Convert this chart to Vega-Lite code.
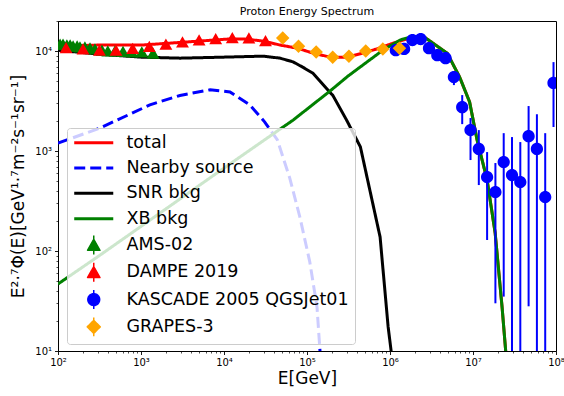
{
  "$schema": "https://vega.github.io/schema/vega-lite/v6.json",
  "width": 498,
  "height": 330,
  "autosize": {"type": "none"},
  "padding": {"left": 58, "top": 21, "right": 8, "bottom": 45},
  "background": "white",
  "title": {"text": "Proton Energy Spectrum", "fontSize": 11, "font": "DejaVu Sans", "fontWeight": "normal", "color": "black", "offset": 5, "dy": 6, "anchor": "middle"},
  "config": {
    "font": "DejaVu Sans",
    "view": {"stroke": "black", "strokeWidth": 1},
    "axis": {"grid": false, "domainColor": "black", "tickColor": "black", "labelColor": "black", "titleColor": "black", "labelFont": "DejaVu Sans", "titleFont": "DejaVu Sans", "titleFontWeight": "normal"}
  },
  "datasets": {
    "curves": [
      {"s": "total", "E": 100, "y": 11200},
      {"s": "total", "E": 321, "y": 11500},
      {"s": "total", "E": 1028, "y": 11500},
      {"s": "total", "E": 3390, "y": 12300},
      {"s": "total", "E": 11200, "y": 13200},
      {"s": "total", "E": 17900, "y": 13200},
      {"s": "total", "E": 29500, "y": 12600},
      {"s": "total", "E": 47300, "y": 11500},
      {"s": "total", "E": 76000, "y": 10700},
      {"s": "total", "E": 118000, "y": 9550},
      {"s": "total", "E": 190000, "y": 8700},
      {"s": "total", "E": 300000, "y": 8700},
      {"s": "total", "E": 470000, "y": 9550},
      {"s": "total", "E": 690000, "y": 10500},
      {"s": "total", "E": 1090000, "y": 12000},
      {"s": "total", "E": 1740000, "y": 13500},
      {"s": "total", "E": 2500000, "y": 14100},
      {"s": "total", "E": 4900000, "y": 9500},
      {"s": "total", "E": 6900000, "y": 5500},
      {"s": "total", "E": 9100000, "y": 3100},
      {"s": "total", "E": 11200000, "y": 1290},
      {"s": "total", "E": 14800000, "y": 513},
      {"s": "total", "E": 18500000, "y": 151},
      {"s": "total", "E": 22400000, "y": 27.5},
      {"s": "total", "E": 25000000, "y": 9.1},
      {"s": "Nearby source", "E": 100, "y": 1200},
      {"s": "Nearby source", "E": 321, "y": 1700},
      {"s": "Nearby source", "E": 1280, "y": 2900},
      {"s": "Nearby source", "E": 2950, "y": 3600},
      {"s": "Nearby source", "E": 6800, "y": 4100},
      {"s": "Nearby source", "E": 11800, "y": 3900},
      {"s": "Nearby source", "E": 20400, "y": 2900},
      {"s": "Nearby source", "E": 31000, "y": 1950},
      {"s": "Nearby source", "E": 44000, "y": 1290},
      {"s": "Nearby source", "E": 62000, "y": 537},
      {"s": "Nearby source", "E": 82000, "y": 219},
      {"s": "Nearby source", "E": 108000, "y": 78},
      {"s": "Nearby source", "E": 132000, "y": 27.5},
      {"s": "Nearby source", "E": 144000, "y": 9.5},
      {"s": "SNR bkg", "E": 100, "y": 10200},
      {"s": "SNR bkg", "E": 321, "y": 9300},
      {"s": "SNR bkg", "E": 1000, "y": 8700},
      {"s": "SNR bkg", "E": 2950, "y": 8500},
      {"s": "SNR bkg", "E": 10000, "y": 8700},
      {"s": "SNR bkg", "E": 29500, "y": 8900},
      {"s": "SNR bkg", "E": 47300, "y": 8500},
      {"s": "SNR bkg", "E": 68000, "y": 7800},
      {"s": "SNR bkg", "E": 89000, "y": 6900},
      {"s": "SNR bkg", "E": 118000, "y": 6000},
      {"s": "SNR bkg", "E": 205000, "y": 3600},
      {"s": "SNR bkg", "E": 300000, "y": 2040},
      {"s": "SNR bkg", "E": 440000, "y": 1100},
      {"s": "SNR bkg", "E": 760000, "y": 138},
      {"s": "SNR bkg", "E": 950000, "y": 17.4},
      {"s": "SNR bkg", "E": 1050000, "y": 8.9},
      {"s": "XB bkg", "E": 100, "y": 46.8},
      {"s": "XB bkg", "E": 321, "y": 91},
      {"s": "XB bkg", "E": 1285, "y": 204},
      {"s": "XB bkg", "E": 5100, "y": 457},
      {"s": "XB bkg", "E": 20400, "y": 1020},
      {"s": "XB bkg", "E": 68000, "y": 2040},
      {"s": "XB bkg", "E": 189000, "y": 3980},
      {"s": "XB bkg", "E": 310000, "y": 5600},
      {"s": "XB bkg", "E": 530000, "y": 7800},
      {"s": "XB bkg", "E": 820000, "y": 10200},
      {"s": "XB bkg", "E": 1320000, "y": 12900},
      {"s": "XB bkg", "E": 1740000, "y": 13800},
      {"s": "XB bkg", "E": 2500000, "y": 14100},
      {"s": "XB bkg", "E": 4900000, "y": 9500},
      {"s": "XB bkg", "E": 6900000, "y": 5500},
      {"s": "XB bkg", "E": 9100000, "y": 3100},
      {"s": "XB bkg", "E": 11200000, "y": 1290},
      {"s": "XB bkg", "E": 14800000, "y": 513},
      {"s": "XB bkg", "E": 18500000, "y": 151},
      {"s": "XB bkg", "E": 22400000, "y": 27.5},
      {"s": "XB bkg", "E": 25000000, "y": 9.1}
    ],
    "points": [
      {"s": "AMS-02", "E": 106, "y": 11700, "lo": 11600, "hi": 11800},
      {"s": "AMS-02", "E": 115, "y": 11700, "lo": 11600, "hi": 11800},
      {"s": "AMS-02", "E": 128, "y": 11500, "lo": 11400, "hi": 11600},
      {"s": "AMS-02", "E": 140, "y": 11500, "lo": 11400, "hi": 11600},
      {"s": "AMS-02", "E": 152, "y": 11200, "lo": 11100, "hi": 11300},
      {"s": "AMS-02", "E": 170, "y": 11200, "lo": 11100, "hi": 11300},
      {"s": "AMS-02", "E": 184, "y": 11000, "lo": 10900, "hi": 11100},
      {"s": "AMS-02", "E": 211, "y": 11000, "lo": 10900, "hi": 11100},
      {"s": "AMS-02", "E": 243, "y": 10700, "lo": 10600, "hi": 10800},
      {"s": "AMS-02", "E": 279, "y": 10500, "lo": 10400, "hi": 10600},
      {"s": "AMS-02", "E": 339, "y": 10200, "lo": 10100, "hi": 10300},
      {"s": "AMS-02", "E": 398, "y": 10000, "lo": 9900, "hi": 10100},
      {"s": "AMS-02", "E": 486, "y": 10000, "lo": 9900, "hi": 10100},
      {"s": "AMS-02", "E": 607, "y": 9900, "lo": 9800, "hi": 10000},
      {"s": "AMS-02", "E": 776, "y": 9800, "lo": 9700, "hi": 9900},
      {"s": "AMS-02", "E": 1023, "y": 9800, "lo": 9700, "hi": 9900},
      {"s": "AMS-02", "E": 1396, "y": 9500, "lo": 9400, "hi": 9600},
      {"s": "DAMPE 2019", "E": 125, "y": 10800, "lo": 10700, "hi": 10900},
      {"s": "DAMPE 2019", "E": 200, "y": 10500, "lo": 10400, "hi": 10600},
      {"s": "DAMPE 2019", "E": 316, "y": 10200, "lo": 10100, "hi": 10300},
      {"s": "DAMPE 2019", "E": 500, "y": 10200, "lo": 10100, "hi": 10300},
      {"s": "DAMPE 2019", "E": 794, "y": 10600, "lo": 10500, "hi": 10700},
      {"s": "DAMPE 2019", "E": 1259, "y": 11100, "lo": 11000, "hi": 11200},
      {"s": "DAMPE 2019", "E": 1995, "y": 11700, "lo": 11600, "hi": 11800},
      {"s": "DAMPE 2019", "E": 3162, "y": 12300, "lo": 12200, "hi": 12400},
      {"s": "DAMPE 2019", "E": 5012, "y": 12900, "lo": 12800, "hi": 13000},
      {"s": "DAMPE 2019", "E": 7943, "y": 13300, "lo": 13200, "hi": 13400},
      {"s": "DAMPE 2019", "E": 12589, "y": 13600, "lo": 13500, "hi": 13700},
      {"s": "DAMPE 2019", "E": 19953, "y": 13500, "lo": 13400, "hi": 13600},
      {"s": "DAMPE 2019", "E": 31623, "y": 12700, "lo": 12600, "hi": 12800},
      {"s": "KASCADE 2005 QGSJet01", "E": 1175000, "y": 10200, "lo": 9900, "hi": 10500},
      {"s": "KASCADE 2005 QGSJet01", "E": 1479000, "y": 10500, "lo": 10200, "hi": 10800},
      {"s": "KASCADE 2005 QGSJet01", "E": 1862000, "y": 12900, "lo": 12500, "hi": 13300},
      {"s": "KASCADE 2005 QGSJet01", "E": 2344000, "y": 13200, "lo": 12800, "hi": 13600},
      {"s": "KASCADE 2005 QGSJet01", "E": 2951000, "y": 10700, "lo": 10400, "hi": 11000},
      {"s": "KASCADE 2005 QGSJet01", "E": 3715000, "y": 9100, "lo": 8800, "hi": 9400},
      {"s": "KASCADE 2005 QGSJet01", "E": 4677000, "y": 8500, "lo": 8200, "hi": 8800},
      {"s": "KASCADE 2005 QGSJet01", "E": 5888000, "y": 5500, "lo": 4570, "hi": 6170},
      {"s": "KASCADE 2005 QGSJet01", "E": 7413000, "y": 2750, "lo": 1860, "hi": 3630},
      {"s": "KASCADE 2005 QGSJet01", "E": 9333000, "y": 1620, "lo": 813, "hi": 2140},
      {"s": "KASCADE 2005 QGSJet01", "E": 11750000, "y": 1050, "lo": 457, "hi": 1620},
      {"s": "KASCADE 2005 QGSJet01", "E": 14790000, "y": 550, "lo": 129, "hi": 977},
      {"s": "KASCADE 2005 QGSJet01", "E": 18620000, "y": 389, "lo": 30, "hi": 759},
      {"s": "KASCADE 2005 QGSJet01", "E": 23440000, "y": 776, "lo": 35, "hi": 1510},
      {"s": "KASCADE 2005 QGSJet01", "E": 29510000, "y": 575, "lo": 5, "hi": 1380},
      {"s": "KASCADE 2005 QGSJet01", "E": 37150000, "y": 490, "lo": 5, "hi": 1230},
      {"s": "KASCADE 2005 QGSJet01", "E": 46770000, "y": 1410, "lo": 28, "hi": 2820},
      {"s": "KASCADE 2005 QGSJet01", "E": 58880000, "y": 1050, "lo": 5, "hi": 2340},
      {"s": "KASCADE 2005 QGSJet01", "E": 74130000, "y": 347, "lo": 5, "hi": 1510},
      {"s": "KASCADE 2005 QGSJet01", "E": 93330000, "y": 4800, "lo": 1740, "hi": 7760},
      {"s": "GRAPES-3", "E": 51000, "y": 13500, "lo": 13300, "hi": 13700},
      {"s": "GRAPES-3", "E": 79000, "y": 11200, "lo": 11000, "hi": 11400},
      {"s": "GRAPES-3", "E": 129000, "y": 9800, "lo": 9600, "hi": 10000},
      {"s": "GRAPES-3", "E": 204000, "y": 8700, "lo": 8500, "hi": 8900},
      {"s": "GRAPES-3", "E": 320000, "y": 8900, "lo": 8700, "hi": 9100},
      {"s": "GRAPES-3", "E": 510000, "y": 10000, "lo": 9800, "hi": 10200},
      {"s": "GRAPES-3", "E": 820000, "y": 10500, "lo": 10300, "hi": 10700},
      {"s": "GRAPES-3", "E": 1300000, "y": 10700, "lo": 10500, "hi": 10900}
    ]
  },
  "encoding": {
    "x": {
      "field": "E", "type": "quantitative",
      "scale": {"type": "log", "domain": [100, 100000000], "nice": false},
      "axis": {
        "title": "E[GeV]",
        "values": [100,200,300,400,500,600,700,800,900,1000,2000,3000,4000,5000,6000,7000,8000,9000,10000,20000,30000,40000,50000,60000,70000,80000,90000,100000,200000,300000,400000,500000,600000,700000,800000,900000,1000000,2000000,3000000,4000000,5000000,6000000,7000000,8000000,9000000,10000000,20000000,30000000,40000000,50000000,60000000,70000000,80000000,90000000,100000000],
        "labelExpr": "datum.value == 100 ? '10²' : datum.value == 1000 ? '10³' : datum.value == 10000 ? '10⁴' : datum.value == 100000 ? '10⁵' : datum.value == 1000000 ? '10⁶' : datum.value == 10000000 ? '10⁷' : datum.value == 100000000 ? '10⁸' : ''",
        "labelOverlap": false, "labelFlush": false, "labelBound": false,
        "tickSize": {"condition": {"test": "indexof([100,1000,10000,100000,1000000,10000000,100000000], datum.value) >= 0", "value": 3.5}, "value": 2},
        "tickWidth": {"condition": {"test": "indexof([100,1000,10000,100000,1000000,10000000,100000000], datum.value) >= 0", "value": 0.9}, "value": 0.7},
        "labelFontSize": 10, "labelPadding": 3,
        "titleFontSize": 17, "titlePadding": 3
      }
    },
    "y": {
      "field": "y", "type": "quantitative",
      "scale": {"type": "log", "domain": [10, 20000], "nice": false},
      "axis": {
        "title": "E²·⁷Φ(E)[GeV¹·⁷m⁻²s⁻¹sr⁻¹]",
        "values": [10,20,30,40,50,60,70,80,90,100,200,300,400,500,600,700,800,900,1000,2000,3000,4000,5000,6000,7000,8000,9000,10000,20000],
        "labelExpr": "datum.value == 10 ? '10¹' : datum.value == 100 ? '10²' : datum.value == 1000 ? '10³' : datum.value == 10000 ? '10⁴' : ''",
        "labelOverlap": false, "labelFlush": false, "labelBound": false,
        "tickSize": {"condition": {"test": "indexof([10,100,1000,10000], datum.value) >= 0", "value": 3.5}, "value": 2},
        "tickWidth": {"condition": {"test": "indexof([10,100,1000,10000], datum.value) >= 0", "value": 0.9}, "value": 0.7},
        "labelFontSize": 10, "labelPadding": 3,
        "titleFontSize": 17, "titlePadding": 7
      }
    }
  },
  "layer": [
    {
      "data": {"name": "curves"},
      "mark": {"type": "line", "strokeWidth": 3, "clip": true},
      "encoding": {
        "color": {
          "field": "s", "type": "nominal",
          "scale": {"domain": ["total","Nearby source","SNR bkg","XB bkg","AMS-02","DAMPE 2019","KASCADE 2005 QGSJet01","GRAPES-3"], "range": ["#ff0000","#0000ff","#000000","#008000","#008000","#ff0000","#0000ff","#ffa500"]},
          "legend": {
            "orient": "none", "legendX": 9, "legendY": 107,
            "title": null,
            "labelFont": "DejaVu Sans", "labelFontSize": 17.5, "labelColor": "black", "labelLimit": 400,
            "padding": 6, "rowPadding": 6.3,
            "fillColor": "rgba(255,255,255,0.8)", "strokeColor": "#cccccc", "cornerRadius": 3,
            "symbolSize": 140, "symbolOffset": 12, "labelOffset": 24,
            "symbolStrokeWidth": 3,
            "encode": {
              "symbols": {
                "update": {
                  "shape": {"scale": "shape", "field": "value"},
                  "strokeDash": {"scale": "strokeDash", "field": "value"},
                  "fill": {"scale": "color", "field": "value"},
                  "stroke": {"scale": "color", "field": "value"},
                  "strokeWidth": {"signal": "indexof(['total','Nearby source','SNR bkg','XB bkg'], datum.value) >= 0 ? 3 : 1.5"},
                  "strokeJoin": {"value": "round"},
                  "opacity": {"value": 1}
                }
              }
            }
          }
        },
        "strokeDash": {
          "field": "s", "type": "nominal",
          "scale": {"domain": ["total","Nearby source","SNR bkg","XB bkg","AMS-02","DAMPE 2019","KASCADE 2005 QGSJet01","GRAPES-3"], "range": [[1,0],[11,5],[1,0],[1,0],[1,0],[1,0],[1,0],[1,0]]},
          "legend": null
        }
      }
    },
    {
      "data": {"name": "points"},
      "transform": [{"filter": "datum.s == 'KASCADE 2005 QGSJet01'"}],
      "mark": {"type": "rule", "strokeWidth": 2, "color": "#0000ff", "clip": true},
      "encoding": {
        "y": {"field": "lo", "type": "quantitative"},
        "y2": {"field": "hi"}
      }
    },
    {
      "data": {"name": "points"},
      "mark": {"type": "point", "filled": true, "opacity": 1, "size": 150, "clip": true},
      "encoding": {
        "color": {
          "field": "s", "type": "nominal",
          "scale": {"domain": ["total","Nearby source","SNR bkg","XB bkg","AMS-02","DAMPE 2019","KASCADE 2005 QGSJet01","GRAPES-3"], "range": ["#ff0000","#0000ff","#000000","#008000","#008000","#ff0000","#0000ff","#ffa500"]}
        },
        "shape": {
          "field": "s", "type": "nominal",
          "scale": {"domain": ["total","Nearby source","SNR bkg","XB bkg","AMS-02","DAMPE 2019","KASCADE 2005 QGSJet01","GRAPES-3"], "range": ["M-3.3,0H3.3M0,-1.3M0,1.3","M-3.3,0H3.3M0,-1.3M0,1.3","M-3.3,0H3.3M0,-1.3M0,1.3","M-3.3,0H3.3M0,-1.3M0,1.3","M0,-0.95L1.05,0.9L-1.05,0.9Z M0,-1.6L0,1.6","M0,-0.95L1.05,0.9L-1.05,0.9Z M0,-1.6L0,1.6","M-1,0A1,1 0 1,0 1,0A1,1 0 1,0 -1,0Z M0,-1.6L0,1.6","M0,-1.1L1.1,0L0,1.1L-1.1,0Z M0,-1.6L0,1.6"]},
          "legend": null
        }
      }
    }
  ]
}
